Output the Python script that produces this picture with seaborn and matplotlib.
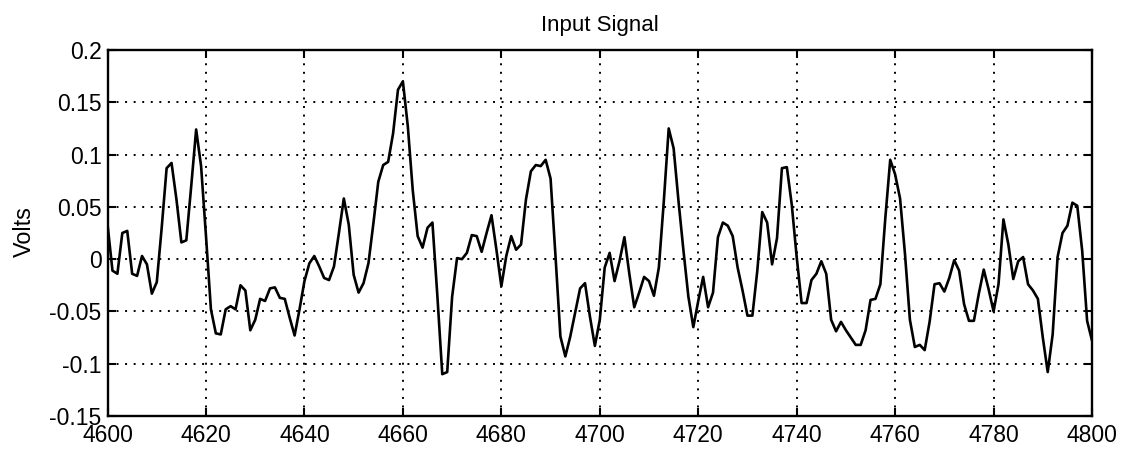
import numpy as np
import pandas as pd
import matplotlib
matplotlib.use("Agg")
import matplotlib.pyplot as plt
import seaborn as sns

# ---- data ----
sample_start = 4600
volts = [
    0.033, -0.011, -0.014, 0.025, 0.027, -0.014, -0.016, 0.003, -0.005, -0.033,
    -0.022, 0.030, 0.087, 0.092, 0.057, 0.016, 0.018, 0.070, 0.124, 0.089,
    0.022, -0.048, -0.071, -0.072, -0.048, -0.045, -0.048, -0.025, -0.030, -0.068,
    -0.058, -0.038, -0.040, -0.028, -0.027, -0.037, -0.038, -0.056, -0.073, -0.048,
    -0.021, -0.004, 0.003, -0.007, -0.018, -0.020, -0.007, 0.025, 0.058, 0.033,
    -0.015, -0.032, -0.023, -0.004, 0.034, 0.074, 0.090, 0.093, 0.120, 0.162,
    0.170, 0.127, 0.066, 0.022, 0.011, 0.030, 0.035, -0.035, -0.110, -0.108,
    -0.036, 0.001, 0.000, 0.006, 0.023, 0.022, 0.007, 0.025, 0.042, 0.009,
    -0.026, 0.003, 0.022, 0.009, 0.014, 0.057, 0.084, 0.090, 0.089, 0.095,
    0.077, 0.003, -0.074, -0.093, -0.074, -0.051, -0.028, -0.023, -0.055, -0.083,
    -0.058, -0.008, 0.006, -0.021, -0.002, 0.021, -0.014, -0.046, -0.032, -0.017,
    -0.021, -0.035, -0.008, 0.055, 0.125, 0.106, 0.055, 0.008, -0.036, -0.065,
    -0.040, -0.017, -0.046, -0.032, 0.021, 0.035, 0.032, 0.022, -0.008, -0.030,
    -0.054, -0.054, -0.011, 0.045, 0.035, -0.005, 0.020, 0.087, 0.088, 0.052,
    0.002, -0.042, -0.042, -0.020, -0.014, -0.002, -0.014, -0.058, -0.069, -0.060,
    -0.068, -0.075, -0.082, -0.082, -0.068, -0.039, -0.038, -0.024, 0.039, 0.095,
    0.081, 0.058, 0.005, -0.058, -0.084, -0.082, -0.087, -0.060, -0.024, -0.023,
    -0.031, -0.018, -0.001, -0.011, -0.043, -0.059, -0.059, -0.033, -0.010, -0.029,
    -0.050, -0.024, 0.038, 0.014, -0.019, -0.002, 0.002, -0.024, -0.030, -0.038,
    -0.075, -0.108, -0.072, 0.002, 0.025, 0.032, 0.054, 0.051, 0.008, -0.059,
    -0.078,
]
samples = list(range(sample_start, sample_start + len(volts)))

x_ticks = [4600, 4620, 4640, 4660, 4680, 4700, 4720, 4740, 4760, 4780, 4800]
x_tick_labels = [str(t) for t in x_ticks]
y_ticks = [-0.15, -0.1, -0.05, 0, 0.05, 0.1, 0.15, 0.2]
y_tick_labels = ["-0.15", "-0.1", "-0.05", "0", "0.05", "0.1", "0.15", "0.2"]

title = "Input Signal"
y_label = "Volts"

# ---- style ----
sns.set_theme(style="white")
plt.rcParams["font.family"] = ["Liberation Sans", "DejaVu Sans"]
plt.rcParams["axes.unicode_minus"] = False
plt.rcParams["text.color"] = "black"
plt.rcParams["axes.labelcolor"] = "black"
plt.rcParams["xtick.color"] = "black"
plt.rcParams["ytick.color"] = "black"

df = pd.DataFrame({"sample": samples, "volts": volts})

fig = plt.figure(figsize=(11.25, 4.53), dpi=100)
ax = fig.add_axes([0.0956, 0.0817, 0.8751, 0.8079])

sns.lineplot(data=df, x="sample", y="volts", ax=ax, color="black",
             linewidth=1.9, estimator=None, sort=False)

ax.set_xlim(4600, 4800)
ax.set_ylim(-0.15, 0.2)
ax.set_xticks(x_ticks)
ax.set_xticklabels(x_tick_labels, fontsize=16.5, color="black")
ax.set_yticks(y_ticks)
ax.set_yticklabels(y_tick_labels, fontsize=16.5, color="black")

ax.grid(True, color="black", linestyle=(0, (1, 3.4)), linewidth=1.4)
ax.set_axisbelow(True)

ax.tick_params(direction="in", length=6, width=1.5, top=True, right=True,
               bottom=True, left=True, colors="black")
ax.tick_params(axis="x", pad=6)
ax.tick_params(axis="y", pad=4.3)
for s in ax.spines.values():
    s.set_color("black")
    s.set_linewidth(1.7)

ax.set_xlabel("")
ax.set_ylabel(y_label, fontsize=16.8, color="black")
ax.yaxis.set_label_coords(-0.073, 0.505)
ax.set_title(title, fontsize=16, pad=14, color="black")

fig.savefig("out.png", dpi=100)
